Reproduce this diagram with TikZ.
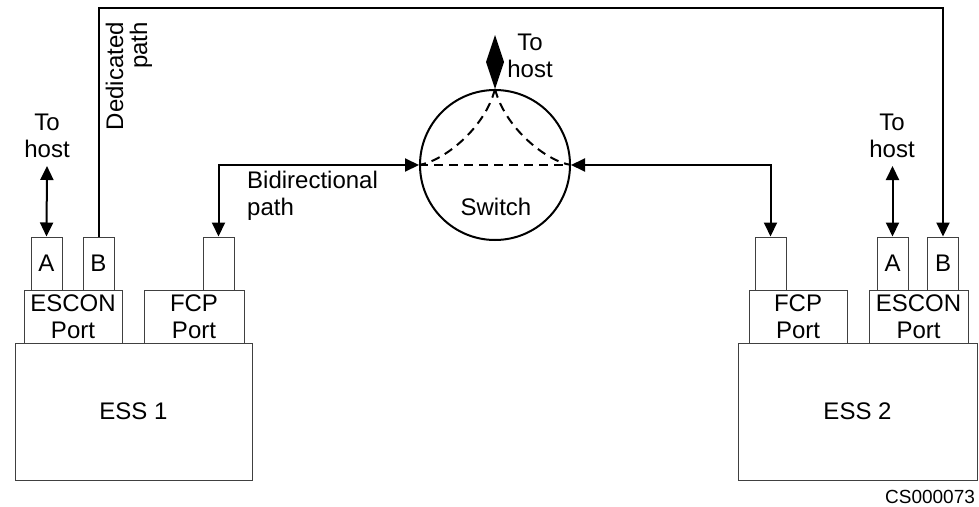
\documentclass[tikz,border=0pt]{standalone}
\usepackage{fontspec}
\setmainfont{Liberation Sans}
\usetikzlibrary{arrows.meta}
\begin{document}
\begin{tikzpicture}[x=1pt,y=-1pt,
  font=\fontsize{24}{27.5}\selectfont,
  >={Triangle[length=14pt,width=13pt]},
  box/.style={draw=black!75, line width=1pt, inner sep=0pt, align=center},
  conn/.style={line width=2pt},
  dsh/.style={line width=2pt, dash pattern=on 9pt off 6pt},
  lbl/.style={inner sep=0pt, align=center}]
\useasboundingbox (0,0) rectangle (979,506);

% left ESS
\node[box, minimum width=237, minimum height=137] (ess1) at (133.5,411.5) {ESS 1};
\node[box, minimum width=98, minimum height=53] (esc1) at (73,316.5) {ESCON\\Port};
\node[box, minimum width=100, minimum height=53] (fcp1) at (194,316.5) {FCP\\Port};
\node[box, minimum width=31, minimum height=53] (a1) at (46.5,263.5) {A};
\node[box, minimum width=31, minimum height=53] (b1) at (98.5,263.5) {B};
\node[box, minimum width=31, minimum height=53] (f1) at (218.5,263.5) {};

% right ESS
\node[box, minimum width=239, minimum height=137] (ess2) at (857.5,411.5) {ESS 2};
\node[box, minimum width=98, minimum height=53] (fcp2) at (798,316.5) {FCP\\Port};
\node[box, minimum width=99, minimum height=53] (esc2) at (918.5,316.5) {ESCON\\Port};
\node[box, minimum width=31, minimum height=53] (f2) at (770.5,263.5) {};
\node[box, minimum width=31, minimum height=53] (a2) at (892.5,263.5) {A};
\node[box, minimum width=31, minimum height=53] (b2) at (943,263.5) {B};

% switch
\node[draw, circle, line width=2pt, minimum size=150, inner sep=0pt] (sw) at (495,165) {};
\node[lbl] (swl) at (496,207) {Switch};

% labels
\node[lbl] (th1) at (47,136) {To\\host};
\node[lbl] (th2) at (892,136) {To\\host};
\node[lbl] (th0) at (530,56) {To\\host};
\node[lbl, align=left, anchor=west] (bid) at (247,196) {Bidirectional\\path};
\node[lbl, align=right, rotate=90, anchor=east, font=\fontsize{24}{24}\selectfont] (ded) at (129,22) {Dedicated\\path};
\node[lbl, font=\fontsize{19}{22}\selectfont] (cs) at (930,497) {CS000073};

% connectors
\coordinate (h1) at (47,166);
\coordinate (h2) at (892.5,166);
\coordinate (tl) at (98.5,8);
\draw[conn, <->] (h1) -- (a1.north);
\draw[conn, <->] (h2) -- (a2.north);
\draw[conn, ->] (b1.north) -- (tl) -| (b2.north);
\draw[conn, <->] (f1.north) |- (sw.west);
\draw[conn, <->] (f2.north) |- (sw.east);

% inside switch
\draw[dsh] (sw.west) -- (sw.east);
\draw[dsh] (sw.north) .. controls +(-10,39) and +(25,-4) .. (sw.west);
\draw[dsh] (sw.north) .. controls +(10,39) and +(-25,-4) .. (sw.east);

% to-host diamond arrow on switch
\fill (sw.north) -- ++(9,-27) -- ++(-9,-27) -- ++(-9,27) -- cycle;
\end{tikzpicture}
\end{document}
